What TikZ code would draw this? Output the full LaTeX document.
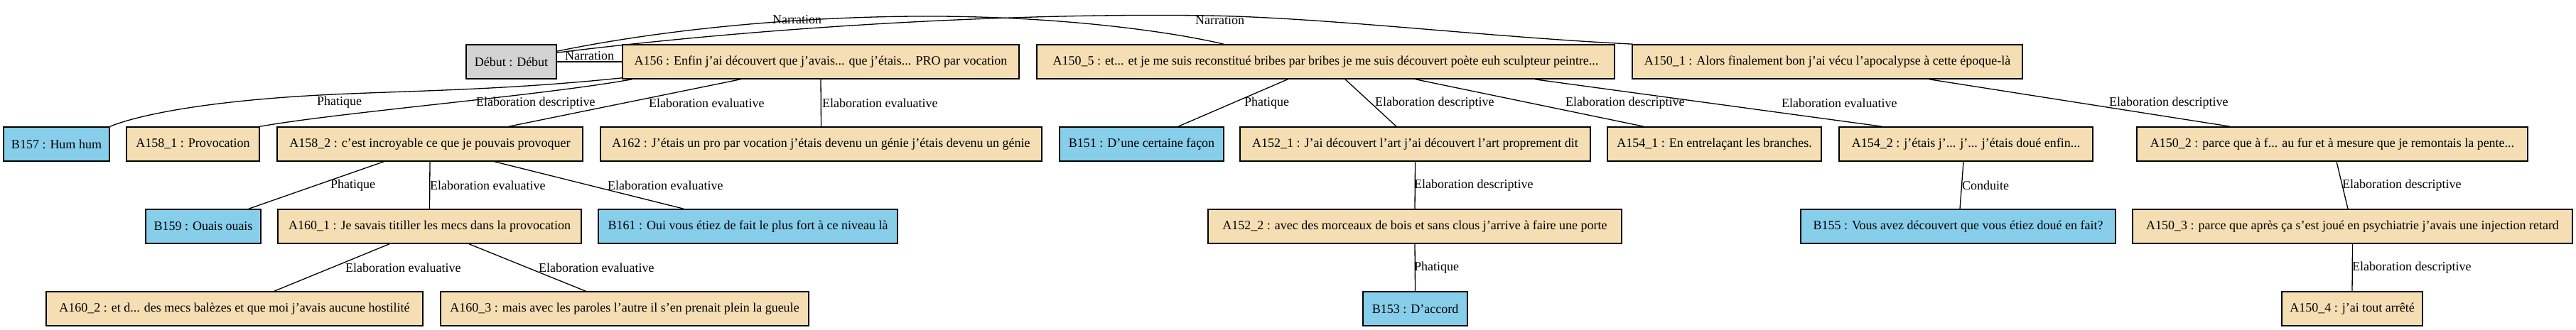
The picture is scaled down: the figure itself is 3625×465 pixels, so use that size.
\documentclass[tikz,border=0pt]{standalone}
\usepackage{fontspec}
\setmainfont{Liberation Serif}
\definecolor{wheatc}{HTML}{F5DEB3}
\definecolor{skyc}{HTML}{87CEEB}
\definecolor{grayc}{HTML}{D3D3D3}
\begin{document}
\begin{tikzpicture}[x=1pt,y=-1pt,
  box/.style={draw=black,line width=1.6pt,inner sep=0pt,minimum height=48pt,font=\fontsize{18}{20}\selectfont,anchor=center},
  abox/.style={box,fill=wheatc},
  bbox/.style={box,fill=skyc},
  gbox/.style={box,fill=grayc},
  edge/.style={draw=black,line width=1.3pt},
  lbl/.style={font=\fontsize{18}{20}\selectfont,inner sep=0pt,anchor=west}]
\useasboundingbox (0,0) rectangle (3625,465);
% row 1
\node[gbox,minimum width=127pt] (debut) at (719.5,87) {Début : Début};
\node[abox,minimum width=558pt] (A156) at (1155,87) {A156 : Enfin j’ai découvert que j’avais... que j’étais... PRO par vocation};
\node[abox,minimum width=813pt] (A150_5) at (1865.5,87) {A150\_5 : et... et je me suis reconstitué bribes par bribes je me suis découvert poète euh sculpteur peintre...};
\node[abox,minimum width=549pt] (A150_1) at (2571.5,87) {A150\_1 : Alors finalement bon j’ai vécu l’apocalypse à cette époque-là};
% row 2
\node[bbox,minimum width=149pt] (B157) at (79.5,203) {B157 : Hum hum};
\node[abox,minimum width=187pt] (A158_1) at (271.5,203) {A158\_1 : Provocation};
\node[abox,minimum width=430pt] (A158_2) at (605,203) {A158\_2 : c’est incroyable ce que je pouvais provoquer};
\node[abox,minimum width=621pt] (A162) at (1155.5,203) {A162 : J’étais un pro par vocation j’étais devenu un génie j’étais devenu un génie};
\node[bbox,minimum width=231pt] (B151) at (1606.5,203) {B151 : D’une certaine façon};
\node[abox,minimum width=493pt] (A152_1) at (1991.5,203) {A152\_1 : J’ai découvert l’art j’ai découvert l’art proprement dit};
\node[abox,minimum width=301pt] (A154_1) at (2412.5,203) {A154\_1 : En entrelaçant les branches.};
\node[abox,minimum width=357pt] (A154_2) at (2766.5,203) {A154\_2 : j’étais j’... j’... j’étais doué enfin...};
\node[abox,minimum width=550pt] (A150_2) at (3282,203) {A150\_2 : parce que à f... au fur et à mesure que je remontais la pente...};
% row 3
\node[bbox,minimum width=162pt] (B159) at (286,319) {B159 : Ouais ouais};
\node[abox,minimum width=427pt] (A160_1) at (604.5,319) {A160\_1 : Je savais titiller les mecs dans la provocation};
\node[bbox,minimum width=421pt] (B161) at (1052.5,319) {B161 : Oui vous étiez de fait le plus fort à ce niveau là};
\node[abox,minimum width=582pt] (A152_2) at (1991,319) {A152\_2 : avec des morceaux de bois et sans clous j’arrive à faire une porte};
\node[bbox,minimum width=443pt] (B155) at (2755.5,319) {B155 : Vous avez découvert que vous étiez doué en fait?};
\node[abox,minimum width=619pt] (A150_3) at (3310.5,319) {A150\_3 : parce que après ça s’est joué en psychiatrie j’avais une injection retard};
% row 4
\node[abox,minimum width=530pt] (A160_2) at (330,435) {A160\_2 : et d... des mecs balèzes et que moi j’avais aucune hostilité};
\node[abox,minimum width=518pt] (A160_3) at (879,435) {A160\_3 : mais avec les paroles l’autre il s’en prenait plein la gueule};
\node[bbox,minimum width=147pt] (B153) at (1991.5,435) {B153 : D’accord};
\node[abox,minimum width=198pt] (A150_4) at (3310,435) {A150\_4 : j’ai tout arrêté};

% Narration edges
\draw[edge] (debut.east) -- (A156.west);
\node[lbl] (l1) at (795,79) {Narration};
\draw[edge] ([yshift=-10pt]debut.north east) .. controls (950,38) and (1150,22) .. (1320,23)
  .. controls (1500,24) and (1650,45) .. ([xshift=-143.5pt]A150_5.north);
\node[lbl] (l2) at (1087,28) {Narration};
\draw[edge] ([yshift=-12pt]debut.north east) .. controls (1100,35) and (1450,18) .. (1700,22)
  .. controls (1870,25) and (2090,52) .. ([xshift=2pt]A150_1.north west);
\node[lbl] (l3) at (1682,29) {Narration};

% from A156
\draw[edge] ([yshift=2pt]A156.south west) .. controls (700,128) and (560,128) .. (450,134)
  .. controls (300,142) and (200,160) .. (B157.north east);
\node[lbl] (l4) at (446,144) {Phatique};
\draw[edge] ([xshift=14pt]A156.south west) .. controls (760,135) and (480,158) .. (A158_1.north east);
\node[lbl] (l5) at (670,145) {Elaboration descriptive};
\draw[edge] ([xshift=-113pt]A156.south) -- ([xshift=111pt]A158_2.north);
\node[lbl] (l6) at (913,145) {Elaboration evaluative};
\draw[edge] (A156.south) -- (A162.north);
\node[lbl] (l7) at (1157,145) {Elaboration evaluative};

% from A150_5
\draw[edge] ([xshift=-53.5pt]A150_5.south) -- ([xshift=51.5pt]B151.north);
\node[lbl] (l8) at (1751,145) {Phatique};
\draw[edge] ([xshift=27.5pt]A150_5.south) -- ([xshift=-26.5pt]A152_1.north);
\node[lbl] (l9) at (1935,145) {Elaboration descriptive};
\draw[edge] ([xshift=126.5pt]A150_5.south) -- ([xshift=-99.5pt]A154_1.north);
\node[lbl] (l10) at (2203,145) {Elaboration descriptive};
\draw[edge] ([xshift=294.5pt]A150_5.south) -- ([xshift=-118.5pt]A154_2.north);
\node[lbl] (l11) at (2507,145) {Elaboration evaluative};

% from A150_1
\draw[edge] ([xshift=143.5pt]A150_1.south) -- ([xshift=-144pt]A150_2.north);
\node[lbl] (l12) at (2968,145) {Elaboration descriptive};

% from A158_2
\draw[edge] ([xshift=-65pt]A158_2.south) -- ([xshift=64pt]B159.north);
\node[lbl] (l13) at (465,261) {Phatique};
\draw[edge] (A158_2.south) -- (A160_1.north);
\node[lbl] (l14) at (605,261) {Elaboration evaluative};
\draw[edge] ([xshift=91pt]A158_2.south) -- ([xshift=-90.5pt]B161.north);
\node[lbl] (l15) at (855,261) {Elaboration evaluative};

% from A160_1
\draw[edge] ([xshift=-56.5pt]A160_1.south) -- ([xshift=56pt]A160_2.north);
\node[lbl] (l16) at (486,377) {Elaboration evaluative};
\draw[edge] ([xshift=55.5pt]A160_1.south) -- ([xshift=-55pt]A160_3.north);
\node[lbl] (l17) at (758,377) {Elaboration evaluative};

% A152 chain
\draw[edge] (A152_1.south) -- (A152_2.north);
\node[lbl] (l18) at (1990,261) {Elaboration descriptive};
\draw[edge] (A152_2.south) -- (B153.north);
\node[lbl] (l19) at (1990,377) {Phatique};

% A154_2 -> B155
\draw[edge] ([xshift=-3.5pt]A154_2.south) -- ([xshift=2.5pt]B155.north);
\node[lbl] (l20) at (2761,261) {Conduite};

% A150 chain
\draw[edge] ([xshift=6pt]A150_2.south) -- ([xshift=-6.5pt]A150_3.north);
\node[lbl] (l21) at (3296,261) {Elaboration descriptive};
\draw[edge] (A150_3.south) -- (A150_4.north);
\node[lbl] (l22) at (3310,377) {Elaboration descriptive};
\end{tikzpicture}
\end{document}
